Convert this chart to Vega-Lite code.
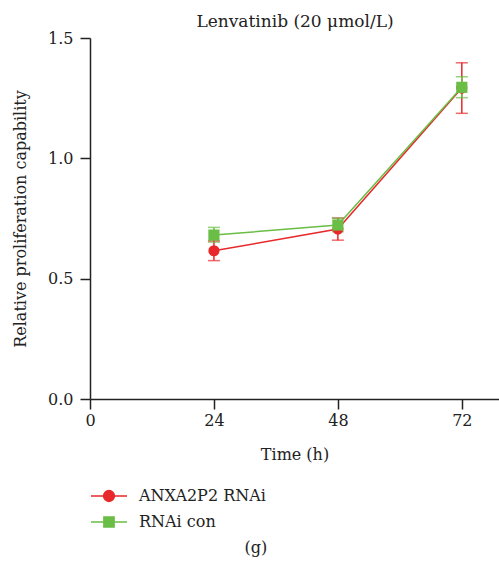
{
  "$schema": "https://vega.github.io/schema/vega-lite/v6.json",
  "width": 409,
  "height": 361,
  "autosize": "none",
  "padding": {"left": 90, "top": 38, "right": 0, "bottom": 174},
  "background": "white",
  "title": {"text": "(g)", "orient": "bottom", "frame": "bounds", "anchor": "middle", "font": "DejaVu Serif", "fontSize": 16, "fontWeight": "normal", "color": "#222", "offset": 9},
  "config": {
    "view": {"stroke": null},
    "font": "DejaVu Serif",
    "axis": {"domainColor": "#222", "domainWidth": 1.5, "tickColor": "#222", "tickWidth": 1.5, "tickSize": 10, "labelFont": "DejaVu Serif", "labelFontSize": 16, "labelColor": "#222", "titleFont": "DejaVu Serif", "titleFontSize": 16, "titleFontWeight": "normal", "titleColor": "#222", "grid": false, "labelFlush": false},
    "legend": {"orient": "none", "legendX": 11, "legendY": 450, "title": null, "symbolSize": 144, "symbolStrokeWidth": 1.5, "symbolOpacity": 1, "labelFont": "DejaVu Serif", "labelFontSize": 16, "labelColor": "#222", "labelOffset": 22, "rowPadding": 8, "padding": 0}
  },
  "data": {"values": [
    {"group": "ANXA2P2 RNAi", "time": 24, "mean": 0.616, "lo": 0.575, "hi": 0.657},
    {"group": "ANXA2P2 RNAi", "time": 48, "mean": 0.706, "lo": 0.66, "hi": 0.752},
    {"group": "ANXA2P2 RNAi", "time": 72, "mean": 1.292, "lo": 1.187, "hi": 1.397},
    {"group": "RNAi con", "time": 24, "mean": 0.681, "lo": 0.652, "hi": 0.713},
    {"group": "RNAi con", "time": 48, "mean": 0.723, "lo": 0.695, "hi": 0.751},
    {"group": "RNAi con", "time": 72, "mean": 1.295, "lo": 1.252, "hi": 1.339}
  ]},
  "layer": [
    {
      "mark": {"type": "point", "filled": true, "opacity": 1, "size": 1, "strokeWidth": 0.5},
      "encoding": {
        "x": {"field": "time", "type": "quantitative", "axis": null},
        "y": {"field": "mean", "type": "quantitative"},
        "color": {"field": "group", "type": "nominal", "scale": {"domain": ["ANXA2P2 RNAi", "RNAi con"], "range": ["#e8282b", "#6abd45"]}, "legend": {"encode": {"symbols": {"update": {"fill": {"scale": "color", "field": "value"}, "stroke": {"scale": "color", "field": "value"}, "opacity": {"value": 1}, "strokeWidth": {"value": 1.5}, "size": {"value": 144}}}}}},
        "shape": {"field": "group", "type": "nominal", "scale": {"domain": ["ANXA2P2 RNAi", "RNAi con"], "range": ["M-3,0H3M0.9,0A0.9,0.9 0 1,1 -0.9,0A0.9,0.9 0 1,1 0.9,0Z", "M-3,0H3M-0.85,-0.85H0.85V0.85H-0.85Z"]}, "legend": {"encode": {"symbols": {"update": {"fill": {"scale": "color", "field": "value"}, "stroke": {"scale": "color", "field": "value"}, "opacity": {"value": 1}, "strokeWidth": {"value": 1.5}, "size": {"value": 144}}}}}}
      }
    },
    {
      "mark": {"type": "line", "strokeWidth": 1.5},
      "encoding": {
        "x": {"field": "time", "type": "quantitative", "scale": {"domain": [0, 79.2], "nice": false}, "axis": {"orient": "bottom", "values": [0, 24, 48, 72], "title": "Time (h)", "labelPadding": 3, "titlePadding": 18, "labelFlush": false}},
        "y": {"field": "mean", "type": "quantitative", "scale": {"domain": [0, 1.5], "nice": false}, "axis": {"values": [0, 0.5, 1, 1.5], "format": ".1f", "title": "Relative proliferation capability", "labelPadding": 7, "titlePadding": 19}},
        "color": {"field": "group", "type": "nominal"}
      }
    },
    {
      "mark": {"type": "rule", "strokeWidth": 1.5},
      "encoding": {
        "x": {"field": "time", "type": "quantitative", "axis": {"orient": "top", "title": "Lenvatinib (20 μmol/L)", "labels": false, "ticks": false, "domain": false, "titleFontSize": 17, "titlePadding": 8}},
        "y": {"field": "lo", "type": "quantitative"},
        "y2": {"field": "hi"},
        "color": {"field": "group", "type": "nominal"}
      }
    },
    {
      "mark": {"type": "tick", "orient": "horizontal", "size": 12, "thickness": 1.5},
      "encoding": {
        "x": {"field": "time", "type": "quantitative", "axis": null},
        "y": {"field": "lo", "type": "quantitative"},
        "color": {"field": "group", "type": "nominal"}
      }
    },
    {
      "mark": {"type": "tick", "orient": "horizontal", "size": 12, "thickness": 1.5},
      "encoding": {
        "x": {"field": "time", "type": "quantitative", "axis": null},
        "y": {"field": "hi", "type": "quantitative"},
        "color": {"field": "group", "type": "nominal"}
      }
    },
    {
      "mark": {"type": "point", "filled": true, "opacity": 1, "size": 125},
      "encoding": {
        "x": {"field": "time", "type": "quantitative", "axis": null},
        "y": {"field": "mean", "type": "quantitative"},
        "color": {"field": "group", "type": "nominal"},
        "shape": {"condition": {"test": "datum.group === 'RNAi con'", "value": "square"}, "value": "circle"}
      }
    }
  ]
}
